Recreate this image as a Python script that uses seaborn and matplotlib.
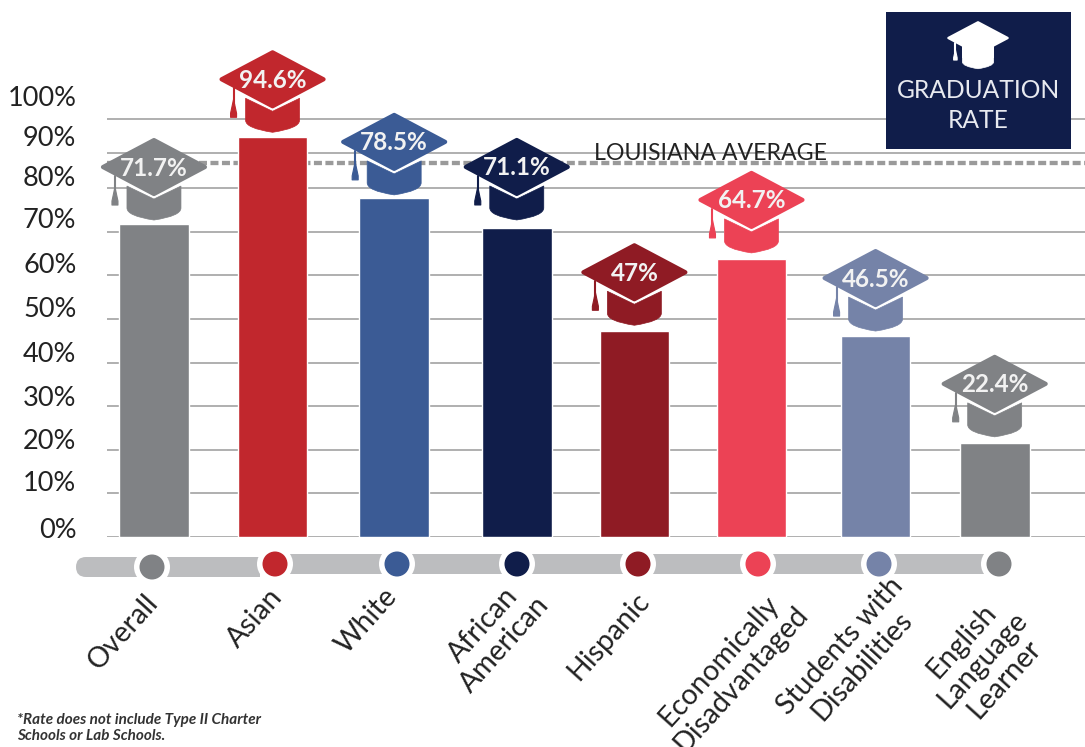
import numpy as np
import pandas as pd
import matplotlib
matplotlib.use("Agg")
import matplotlib.pyplot as plt
import seaborn as sns
from matplotlib.path import Path
from matplotlib.patches import PathPatch, Circle, Rectangle, FancyBboxPatch

# values as drawn (bar heights) and as printed on the caps
categories = ["Overall", "Asian", "White", "African American", "Hispanic",
              "Economically Disadvantaged", "Students with Disabilities",
              "English Language Learner"]
bar_heights = [71.8, 91.7, 77.8, 70.9, 47.2, 63.8, 46.1, 21.6]
cap_labels = ["71.7%", "94.6%", "78.5%", "71.1%", "47%", "64.7%", "46.5%", "22.4%"]
colors = ["#808285", "#c1272d", "#3b5b95", "#101d4a", "#8f1b24", "#ec4255", "#7583a8", "#808285"]
x_labels = ["Overall", "Asian", "White", "African\nAmerican", "Hispanic",
            "Economically\nDisadvantaged", "Students with\nDisabilities",
            "English\nLanguage\nLearner"]
grid_values = [0, 10, 20, 30, 40, 50, 60, 70, 80, 88, 96]
tick_labels = ["100%", "90%", "80%", "70%", "60%", "50%", "40%", "30%", "20%", "10%", "0%"]
tick_values = [101.1, 92.0, 82.8, 73.2, 62.8, 52.8, 42.4, 32.3, 22.5, 12.8, 2.1]
louisiana_avg = 85.8

# layout tweaks, in pixels
bar_shift = [0, -1.5, 0, 2.5, 0, -3, 1, 0]
cap_gap = [57, 58, 56, 61, 59, 59, 58, 59]

W, H = 1085, 747
FONT = "Lato"

sns.set_theme(style="white")
plt.rcParams["font.family"] = [FONT, "DejaVu Sans"]

df = pd.DataFrame({"group": categories, "rate": bar_heights})

fig = plt.figure(figsize=(W / 100, H / 100), dpi=100)
ax = fig.add_axes([107 / W, (H - 537) / H, (W - 107) / W, 537 / H])

sns.barplot(data=df, x="group", y="rate", hue="group", order=categories,
            palette=dict(zip(categories, colors)), legend=False, width=0.58,
            saturation=1, ax=ax, zorder=3)
for patch, dx in zip(ax.patches, bar_shift):
    patch.set_x(patch.get_x() + dx / 120.1)
for g in grid_values:
    ax.axhline(g, color="#a9a9a9", lw=1.3, zorder=1)
ax.plot([-0.391, 7.752], [louisiana_avg] * 2, color="#9a9a9a", lw=3.1, zorder=2,
        dashes=(1.86, 0.81), dash_capstyle="butt")

ax.set_xlim(-0.391, 7.752)
ax.set_ylim(0, 123.2)
ax.set_xlabel("")
ax.set_ylabel("")
ax.set_xticks(range(len(categories)))
ax.set_xticklabels([])
ax.set_yticks(tick_values)
ax.set_yticklabels(tick_labels, fontsize=19.5, color="#222222")
ax.tick_params(axis="y", length=0, pad=22)
ax.tick_params(axis="x", length=0)
sns.despine(ax=ax, left=True, bottom=True, top=True, right=True)
ax.patch.set_alpha(0)

# overlay in pixel coordinates for the pictorial bits
ov = fig.add_axes([0, 0, 1, 1], zorder=5)
ov.set_xlim(0, W)
ov.set_ylim(H, 0)
ov.axis("off")


def draw_cap(cx, cy, color, s=1.0, zorder=6):
    # white backing so gridlines do not run through the gap
    ov.add_patch(Rectangle((cx - 27 * s, cy + 10 * s), 54 * s, 24 * s, color="white", lw=0, zorder=zorder - 1))
    verts = [(-27, 19), (0, 32), (27, 19), (27, 41), (27, 49), (0, 53), (0, 53), (0, 53), (-27, 49), (-27, 41), (-27, 19)]
    codes = [Path.MOVETO, Path.LINETO, Path.LINETO, Path.LINETO,
             Path.CURVE3, Path.CURVE3, Path.LINETO, Path.LINETO, Path.CURVE3, Path.CURVE3, Path.CLOSEPOLY]
    verts = [(cx + a * s, cy + b * s) for a, b in verts]
    ov.add_patch(PathPatch(Path(verts, codes), fc=color, ec=color, lw=0.5, zorder=zorder))
    d = [(-51, 0), (0, -27), (51, 0), (0, 27), (-51, 0)]
    d = [(cx + a * s, cy + b * s) for a, b in d]
    ov.add_patch(PathPatch(Path(d, closed=True), fc=color, ec=color, lw=3 * s, joinstyle="round", zorder=zorder + 1))
    ov.plot([cx - 39 * s] * 2, [cy + 9 * s, cy + 26 * s], color=color, lw=1.5, zorder=zorder)
    t = [(-39, 20), (-42, 34), (-42, 38), (-36, 38), (-36, 34), (-39, 20)]
    t = [(cx + a * s, cy + b * s) for a, b in t]
    ov.add_patch(PathPatch(Path(t, closed=True), fc=color, ec=color, lw=0.8, joinstyle="round", zorder=zorder))


for patch, gap, lab, col in zip(ax.patches, cap_gap, cap_labels, colors):
    px, py = ax.transData.transform((patch.get_x() + patch.get_width() / 2, patch.get_height()))
    py = H - py
    draw_cap(px, py - gap, col)
    ov.text(px, py - gap + 1, lab, color="#f2f2f2", fontsize=17.5, fontweight="bold",
            ha="center", va="center", zorder=8)

# timeline under the bars
ov.add_patch(FancyBboxPatch((76, 557), 100, 20, boxstyle="round,pad=0,rounding_size=10", fc="#bcbdbf", ec="none", zorder=2))
ov.add_patch(Rectangle((150, 557), 110, 20, fc="#bcbdbf", ec="none", zorder=2))
ov.add_patch(Rectangle((270, 554), 715, 20, fc="#bcbdbf", ec="none", zorder=2))
dot_x = [152, 275, 397, 517, 638, 758, 879, 999]
dot_y = [567, 564, 564, 564, 564, 564, 564, 564]
for x, y, col in zip(dot_x, dot_y, colors):
    ov.add_patch(Circle((x, y), 18, fc="white", ec="none", zorder=3))
    ov.add_patch(Circle((x, y), 12.5, fc=col, ec="none", zorder=4))

# rotated category names
label_cx = [123, 255, 367, 494, 609, 730, 851, 983]
label_cy = [632, 618, 621, 635, 636, 670, 656, 660]
for x, y, lab in zip(label_cx, label_cy, x_labels):
    ov.text(x, y, lab, rotation=48, ha="center", va="center", rotation_mode="anchor",
            multialignment="center", fontsize=20.5, color="#222222", linespacing=1.12, clip_on=False)

ov.text(711, 153, "LOUISIANA AVERAGE", fontsize=16.7, color="#222222", ha="center", va="center")

# title box
ov.add_patch(Rectangle((886, 12), 185, 137, fc="#101d4a", ec="none", zorder=6))
draw_cap(978, 38, "white", s=0.58, zorder=7)
ov.text(978, 90, "GRADUATION", color="#e8eaf0", fontsize=17.7, ha="center", va="center", zorder=9)
ov.text(978, 120, "RATE", color="#e8eaf0", fontsize=17.7, ha="center", va="center", zorder=9)

ov.text(17, 728, "*Rate does not include Type II Charter\nSchools or Lab Schools.", fontsize=11,
        style="italic", fontweight="bold", color="#333333", ha="left", va="center", linespacing=1.2)

fig.savefig("out.png", dpi=100)
